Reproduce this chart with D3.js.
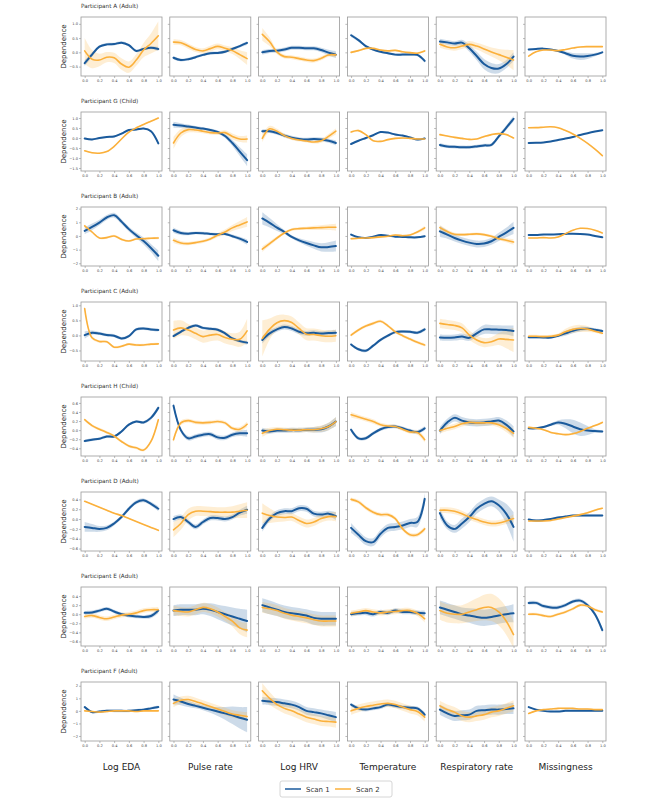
<!DOCTYPE html>
<html>
<head>
<meta charset="utf-8">
<script src="https://cdn.jsdelivr.net/npm/d3@7"></script>
<style>
  body { margin: 0; background: #fff; }
  svg { font-family: "DejaVu Sans", sans-serif; }
</style>
</head>
<body>
<div id="chart"></div>
<script>
const xGrid = [0, 0.1, 0.2, 0.3, 0.4, 0.5, 0.6, 0.7, 0.8, 0.9, 1.0];
const xTicks = [0, 0.2, 0.4, 0.6, 0.8, 1.0];
const features = ["Log EDA", "Pulse rate", "Log HRV", "Temperature", "Respiratory rate", "Missingness"];
const participants = ["Participant A (Adult)", "Participant G (Child)", "Participant B (Adult)", "Participant C (Adult)",
  "Participant H (Child)", "Participant D (Adult)", "Participant E (Adult)", "Participant F (Adult)"];
const yDomains = [[-0.83, 1.24], [-1.65, 1.30], [-2.2, 2.12], [-0.85, 1.11], [-0.57, 0.73], [-0.65, 0.55], [-0.7, 0.6], [-2.4, 2.3]];
const yTicks = [
  [-0.5, 0, 0.5, 1.0],
  [-1.5, -1.0, -0.5, 0, 0.5, 1.0],
  [-2, -1, 0, 1, 2],
  [-0.5, 0, 0.5, 1.0],
  [-0.4, -0.2, 0, 0.2, 0.4, 0.6],
  [-0.6, -0.4, -0.2, 0, 0.2, 0.4],
  [-0.6, -0.4, -0.2, 0, 0.2, 0.4],
  [-2, -1, 0, 1, 2]
];

// Participant A
const scan1_A = [
  [-0.38, -0.08, 0.20, 0.28, 0.29, 0.34, 0.25, 0.05, 0.12, 0.16, 0.12],
  [-0.19, -0.27, -0.24, -0.17, -0.09, -0.03, -0.02, 0.02, 0.12, 0.22, 0.33],
  [0.00, 0.05, 0.06, 0.10, 0.16, 0.16, 0.14, 0.14, 0.08, -0.01, -0.08],
  [0.60, 0.43, 0.22, 0.10, 0.02, -0.03, -0.08, -0.08, -0.08, -0.09, -0.30],
  [0.38, 0.35, 0.31, 0.34, 0.14, -0.13, -0.41, -0.55, -0.57, -0.42, -0.15],
  [0.10, 0.12, 0.13, 0.10, 0.05, -0.03, -0.12, -0.15, -0.13, -0.08, 0.00]
];
const scan2_A = [
  [0.05, -0.24, -0.27, -0.17, -0.19, -0.41, -0.52, -0.27, 0.08, 0.31, 0.58],
  [0.36, 0.34, 0.22, 0.10, 0.05, 0.13, 0.21, 0.14, 0.06, -0.08, -0.22],
  [0.63, 0.37, 0.01, -0.15, -0.17, -0.22, -0.27, -0.29, -0.21, -0.09, -0.09],
  [0.00, 0.06, 0.14, 0.14, 0.08, 0.05, 0.07, 0.02, -0.01, -0.03, 0.05],
  [0.28, 0.19, 0.16, 0.22, 0.28, 0.22, 0.12, 0.01, -0.08, -0.17, -0.27],
  [-0.13, 0.02, 0.08, 0.08, 0.06, 0.10, 0.15, 0.19, 0.20, 0.20, 0.20]
];
const band1_A = [
  [0.10, 0.08, 0.05, 0.05, 0.05, 0.05, 0.05, 0.05, 0.05, 0.05, 0.07],
  [0.06, 0.05, 0.05, 0.05, 0.05, 0.05, 0.05, 0.05, 0.05, 0.05, 0.07],
  [0.08, 0.07, 0.07, 0.07, 0.07, 0.07, 0.07, 0.07, 0.08, 0.10, 0.12],
  [0.06, 0.05, 0.04, 0.04, 0.04, 0.04, 0.04, 0.04, 0.04, 0.05, 0.07],
  [0.10, 0.08, 0.08, 0.10, 0.12, 0.15, 0.18, 0.18, 0.16, 0.14, 0.15],
  [0.03, 0.02, 0.02, 0.02, 0.03, 0.06, 0.10, 0.12, 0.10, 0.06, 0.04]
];
const band2_A = [
  [0.45, 0.32, 0.22, 0.18, 0.18, 0.20, 0.20, 0.20, 0.25, 0.35, 0.50],
  [0.10, 0.09, 0.09, 0.09, 0.09, 0.10, 0.10, 0.10, 0.12, 0.15, 0.22],
  [0.22, 0.15, 0.08, 0.07, 0.07, 0.07, 0.07, 0.07, 0.07, 0.07, 0.08],
  [0.04, 0.03, 0.03, 0.03, 0.03, 0.03, 0.03, 0.03, 0.03, 0.03, 0.04],
  [0.12, 0.10, 0.10, 0.10, 0.12, 0.12, 0.14, 0.16, 0.20, 0.26, 0.35],
  [0.02, 0.02, 0.02, 0.02, 0.02, 0.02, 0.02, 0.02, 0.02, 0.02, 0.02]
];

// Participant G
const scan1_G = [
  [-0.02, -0.07, 0.00, 0.05, 0.08, 0.22, 0.40, 0.42, 0.47, 0.34, -0.27],
  [0.66, 0.62, 0.57, 0.52, 0.47, 0.40, 0.30, 0.10, -0.25, -0.68, -1.11],
  [0.34, 0.34, 0.25, 0.12, 0.02, -0.05, -0.08, -0.05, -0.07, -0.14, -0.25],
  [-0.30, -0.14, 0.00, 0.14, 0.30, 0.27, 0.17, 0.12, 0.03, -0.08, -0.02],
  [-0.35, -0.42, -0.44, -0.46, -0.46, -0.42, -0.37, -0.34, 0.08, 0.51, 0.96],
  [-0.25, -0.24, -0.22, -0.17, -0.10, -0.03, 0.05, 0.15, 0.24, 0.32, 0.39]
];
const scan2_G = [
  [-0.64, -0.74, -0.76, -0.68, -0.42, -0.05, 0.29, 0.51, 0.68, 0.84, 1.00],
  [-0.25, 0.25, 0.42, 0.40, 0.34, 0.27, 0.25, 0.27, 0.08, -0.05, -0.05],
  [-0.02, 0.46, 0.34, 0.12, -0.02, -0.10, -0.15, -0.20, -0.14, 0.08, 0.34],
  [0.30, 0.37, 0.17, -0.14, -0.17, -0.08, -0.02, 0.00, -0.02, -0.05, -0.05],
  [0.17, 0.10, 0.03, -0.02, -0.07, -0.05, 0.07, 0.17, 0.22, 0.17, 0.00],
  [0.51, 0.52, 0.54, 0.56, 0.51, 0.37, 0.20, -0.02, -0.27, -0.56, -0.88]
];
const band1_G = [
  [0.04, 0.04, 0.04, 0.04, 0.04, 0.04, 0.04, 0.04, 0.04, 0.05, 0.06],
  [0.15, 0.12, 0.10, 0.08, 0.07, 0.07, 0.08, 0.10, 0.15, 0.22, 0.30],
  [0.10, 0.09, 0.09, 0.09, 0.09, 0.09, 0.09, 0.09, 0.09, 0.10, 0.12],
  [0.04, 0.04, 0.04, 0.04, 0.04, 0.04, 0.04, 0.04, 0.04, 0.05, 0.06],
  [0.10, 0.08, 0.08, 0.08, 0.08, 0.08, 0.08, 0.08, 0.10, 0.12, 0.15],
  [0.02, 0.02, 0.02, 0.02, 0.02, 0.02, 0.02, 0.02, 0.02, 0.02, 0.02]
];
const band2_G = [
  [0.04, 0.03, 0.03, 0.03, 0.03, 0.03, 0.03, 0.03, 0.03, 0.03, 0.04],
  [0.30, 0.20, 0.15, 0.12, 0.10, 0.10, 0.10, 0.12, 0.15, 0.15, 0.18],
  [0.20, 0.15, 0.12, 0.10, 0.08, 0.08, 0.08, 0.08, 0.10, 0.12, 0.15],
  [0.05, 0.05, 0.04, 0.04, 0.04, 0.04, 0.04, 0.04, 0.04, 0.04, 0.05],
  [0.05, 0.04, 0.04, 0.04, 0.04, 0.04, 0.04, 0.04, 0.04, 0.04, 0.05],
  [0.02, 0.02, 0.02, 0.02, 0.02, 0.02, 0.02, 0.02, 0.02, 0.02, 0.02]
];

// Participant B
const scan1_B = [
  [0.37, 0.66, 0.98, 1.35, 1.52, 1.05, 0.50, 0.05, -0.37, -0.88, -1.45],
  [0.42, 0.22, 0.17, 0.22, 0.20, 0.15, 0.12, 0.15, -0.02, -0.20, -0.44],
  [1.28, 0.96, 0.61, 0.29, -0.07, -0.32, -0.52, -0.69, -0.83, -0.81, -0.74],
  [0.10, -0.10, -0.15, -0.05, 0.07, 0.02, -0.05, -0.07, -0.10, -0.10, -0.02],
  [0.34, 0.10, -0.15, -0.34, -0.49, -0.59, -0.56, -0.39, -0.07, 0.25, 0.59],
  [0.07, 0.07, 0.10, 0.10, 0.12, 0.15, 0.17, 0.15, 0.10, 0.00, -0.10]
];
const scan2_B = [
  [0.74, 0.29, -0.15, -0.12, 0.00, -0.25, -0.37, -0.22, -0.20, -0.17, -0.15],
  [-0.32, -0.52, -0.56, -0.49, -0.39, -0.22, 0.05, 0.29, 0.59, 0.81, 1.03],
  [-0.96, -0.56, -0.15, 0.22, 0.47, 0.54, 0.56, 0.59, 0.61, 0.64, 0.64],
  [-0.20, -0.17, -0.15, -0.12, -0.07, -0.02, 0.07, 0.02, 0.07, 0.29, 0.59],
  [0.61, 0.32, 0.12, 0.10, 0.12, 0.15, 0.10, -0.02, -0.20, -0.32, -0.44],
  [-0.15, -0.15, -0.12, -0.15, -0.07, 0.17, 0.42, 0.56, 0.54, 0.42, 0.22]
];
const band1_B = [
  [0.25, 0.25, 0.20, 0.18, 0.18, 0.18, 0.18, 0.20, 0.25, 0.30, 0.40],
  [0.20, 0.15, 0.12, 0.10, 0.10, 0.10, 0.10, 0.10, 0.12, 0.15, 0.20],
  [0.45, 0.35, 0.25, 0.15, 0.12, 0.15, 0.20, 0.25, 0.30, 0.35, 0.40],
  [0.08, 0.06, 0.06, 0.06, 0.06, 0.06, 0.06, 0.06, 0.06, 0.06, 0.08],
  [0.40, 0.30, 0.25, 0.25, 0.25, 0.25, 0.25, 0.25, 0.30, 0.35, 0.45],
  [0.04, 0.04, 0.04, 0.04, 0.04, 0.04, 0.04, 0.04, 0.04, 0.04, 0.04]
];
const band2_B = [
  [0.12, 0.10, 0.08, 0.08, 0.08, 0.08, 0.08, 0.08, 0.08, 0.08, 0.10],
  [0.20, 0.15, 0.12, 0.12, 0.12, 0.12, 0.15, 0.18, 0.22, 0.28, 0.35],
  [0.20, 0.15, 0.12, 0.10, 0.10, 0.10, 0.12, 0.15, 0.18, 0.20, 0.25],
  [0.10, 0.08, 0.08, 0.08, 0.08, 0.08, 0.08, 0.08, 0.08, 0.10, 0.15],
  [0.20, 0.15, 0.12, 0.10, 0.10, 0.10, 0.10, 0.10, 0.12, 0.15, 0.20],
  [0.04, 0.04, 0.04, 0.04, 0.04, 0.04, 0.04, 0.04, 0.04, 0.04, 0.04]
];

// Participant C
const scan1_C = [
  [0.01, 0.09, 0.06, 0.01, -0.01, -0.10, -0.02, 0.20, 0.23, 0.20, 0.18],
  [-0.02, 0.12, 0.25, 0.33, 0.25, 0.22, 0.19, 0.07, -0.10, -0.19, -0.24],
  [-0.15, 0.07, 0.20, 0.28, 0.23, 0.12, 0.07, 0.09, 0.06, 0.08, 0.09],
  [-0.30, -0.46, -0.51, -0.34, -0.15, -0.01, 0.11, 0.13, 0.12, 0.09, 0.20],
  [-0.07, -0.08, -0.07, -0.04, -0.08, 0.07, 0.20, 0.20, 0.19, 0.18, 0.15],
  [-0.06, -0.06, -0.07, -0.07, -0.01, 0.07, 0.15, 0.21, 0.22, 0.19, 0.15]
];
const scan2_C = [
  [0.89, -0.08, -0.20, -0.21, -0.39, -0.36, -0.29, -0.32, -0.32, -0.29, -0.28],
  [0.18, 0.25, 0.18, 0.07, -0.04, 0.01, 0.03, -0.07, -0.13, -0.13, 0.15],
  [-0.10, 0.21, 0.42, 0.49, 0.43, 0.23, 0.04, 0.03, -0.01, -0.03, -0.01],
  [0.01, 0.18, 0.31, 0.40, 0.47, 0.32, 0.12, -0.01, -0.12, -0.23, -0.32],
  [0.40, 0.36, 0.33, 0.25, 0.01, -0.15, -0.24, -0.21, -0.12, -0.13, -0.15],
  [-0.03, -0.03, -0.04, -0.03, 0.01, 0.12, 0.20, 0.23, 0.21, 0.14, 0.07]
];
const band1_C = [
  [0.12, 0.07, 0.05, 0.05, 0.05, 0.05, 0.05, 0.05, 0.05, 0.05, 0.05],
  [0.06, 0.05, 0.05, 0.05, 0.05, 0.05, 0.05, 0.05, 0.05, 0.05, 0.06],
  [0.12, 0.10, 0.08, 0.08, 0.08, 0.08, 0.08, 0.08, 0.08, 0.08, 0.10],
  [0.05, 0.05, 0.05, 0.05, 0.05, 0.05, 0.05, 0.05, 0.05, 0.05, 0.06],
  [0.10, 0.10, 0.10, 0.10, 0.10, 0.12, 0.15, 0.15, 0.15, 0.15, 0.18],
  [0.04, 0.04, 0.04, 0.04, 0.05, 0.08, 0.08, 0.08, 0.06, 0.05, 0.05]
];
const band2_C = [
  [0.05, 0.05, 0.04, 0.04, 0.04, 0.04, 0.04, 0.04, 0.04, 0.04, 0.04],
  [0.30, 0.25, 0.20, 0.20, 0.20, 0.20, 0.20, 0.20, 0.20, 0.25, 0.40],
  [0.60, 0.35, 0.25, 0.20, 0.20, 0.20, 0.20, 0.20, 0.20, 0.20, 0.20],
  [0.05, 0.05, 0.05, 0.05, 0.05, 0.05, 0.05, 0.05, 0.05, 0.05, 0.05],
  [0.15, 0.15, 0.15, 0.15, 0.15, 0.15, 0.15, 0.15, 0.20, 0.30, 0.40],
  [0.05, 0.05, 0.05, 0.05, 0.05, 0.10, 0.12, 0.12, 0.10, 0.05, 0.05]
];

// Participant H
const scan1_H = [
  [-0.24, -0.21, -0.19, -0.14, -0.14, -0.03, 0.12, 0.19, 0.17, 0.27, 0.49],
  [0.54, 0.00, -0.18, -0.14, -0.10, -0.09, -0.16, -0.17, -0.10, -0.07, -0.07],
  [-0.01, -0.03, -0.01, -0.01, 0.00, 0.00, 0.01, 0.01, 0.02, 0.08, 0.19],
  [0.01, -0.18, -0.18, -0.07, 0.02, 0.07, 0.08, 0.04, -0.01, -0.04, 0.04],
  [-0.01, 0.17, 0.27, 0.21, 0.17, 0.16, 0.17, 0.19, 0.21, 0.12, -0.03],
  [0.04, 0.04, 0.07, 0.12, 0.17, 0.14, 0.08, 0.02, -0.01, -0.02, -0.03]
];
const scan2_H = [
  [0.23, 0.10, 0.02, -0.05, -0.13, -0.25, -0.35, -0.39, -0.44, -0.25, 0.23],
  [-0.21, 0.16, 0.21, 0.17, 0.16, 0.17, 0.19, 0.16, 0.04, 0.02, 0.13],
  [-0.07, -0.01, 0.02, 0.01, 0.00, 0.00, 0.01, 0.01, 0.03, 0.08, 0.19],
  [0.34, 0.29, 0.24, 0.19, 0.12, 0.09, 0.08, 0.02, -0.04, -0.05, -0.21],
  [-0.01, 0.04, 0.08, 0.14, 0.17, 0.16, 0.16, 0.16, 0.12, 0.04, -0.07],
  [0.06, 0.04, 0.01, -0.05, -0.08, -0.10, -0.08, -0.03, 0.04, 0.10, 0.17]
];
const band1_H = [
  [0.03, 0.03, 0.03, 0.03, 0.03, 0.03, 0.03, 0.03, 0.03, 0.04, 0.05],
  [0.06, 0.05, 0.05, 0.05, 0.05, 0.05, 0.05, 0.05, 0.05, 0.06, 0.08],
  [0.06, 0.05, 0.05, 0.05, 0.05, 0.05, 0.05, 0.06, 0.07, 0.08, 0.10],
  [0.05, 0.04, 0.04, 0.04, 0.04, 0.04, 0.04, 0.04, 0.04, 0.04, 0.05],
  [0.08, 0.08, 0.08, 0.08, 0.08, 0.08, 0.08, 0.08, 0.08, 0.10, 0.12],
  [0.02, 0.02, 0.02, 0.03, 0.05, 0.10, 0.15, 0.15, 0.10, 0.04, 0.03]
];
const band2_H = [
  [0.03, 0.03, 0.03, 0.03, 0.03, 0.03, 0.03, 0.03, 0.03, 0.04, 0.05],
  [0.06, 0.05, 0.04, 0.04, 0.04, 0.04, 0.04, 0.04, 0.04, 0.05, 0.06],
  [0.08, 0.06, 0.05, 0.05, 0.05, 0.05, 0.05, 0.06, 0.07, 0.08, 0.10],
  [0.06, 0.05, 0.05, 0.05, 0.04, 0.04, 0.04, 0.04, 0.04, 0.05, 0.06],
  [0.06, 0.06, 0.06, 0.06, 0.06, 0.06, 0.06, 0.06, 0.06, 0.08, 0.10],
  [0.02, 0.02, 0.02, 0.02, 0.02, 0.02, 0.02, 0.02, 0.02, 0.02, 0.02]
];

// Participant D
const scan1_D = [
  [-0.16, -0.18, -0.20, -0.18, -0.09, 0.04, 0.21, 0.34, 0.38, 0.31, 0.21],
  [0.00, 0.04, -0.06, -0.16, -0.06, 0.02, 0.02, 0.00, 0.04, 0.13, 0.19],
  [-0.18, 0.01, 0.12, 0.16, 0.16, 0.22, 0.21, 0.11, 0.09, 0.11, 0.06],
  [-0.18, -0.32, -0.45, -0.47, -0.30, -0.18, -0.16, -0.13, -0.08, -0.06, 0.41],
  [0.12, -0.13, -0.20, -0.09, 0.04, 0.21, 0.31, 0.36, 0.28, 0.11, -0.16],
  [-0.01, -0.03, -0.02, 0.00, 0.03, 0.05, 0.07, 0.07, 0.07, 0.07, 0.07]
];
const scan2_D = [
  [0.36, 0.30, 0.24, 0.18, 0.12, 0.07, 0.01, -0.05, -0.11, -0.17, -0.23],
  [-0.22, -0.09, 0.09, 0.16, 0.16, 0.15, 0.14, 0.14, 0.14, 0.16, 0.18],
  [0.12, 0.07, 0.04, 0.03, 0.04, -0.03, -0.09, -0.06, 0.01, 0.05, 0.05],
  [0.40, 0.35, 0.23, 0.14, 0.09, 0.09, 0.01, -0.20, -0.32, -0.32, -0.20],
  [0.18, 0.18, 0.16, 0.11, 0.04, -0.01, -0.06, -0.09, -0.08, -0.04, 0.01],
  [-0.04, -0.04, -0.04, -0.03, 0.00, 0.03, 0.06, 0.09, 0.13, 0.18, 0.22]
];
const band1_D = [
  [0.10, 0.08, 0.06, 0.05, 0.04, 0.04, 0.04, 0.04, 0.04, 0.04, 0.05],
  [0.06, 0.05, 0.05, 0.05, 0.05, 0.05, 0.05, 0.05, 0.05, 0.06, 0.08],
  [0.08, 0.06, 0.06, 0.06, 0.06, 0.06, 0.06, 0.06, 0.06, 0.06, 0.08],
  [0.10, 0.08, 0.08, 0.08, 0.08, 0.08, 0.08, 0.08, 0.08, 0.10, 0.12],
  [0.10, 0.08, 0.08, 0.10, 0.10, 0.10, 0.10, 0.10, 0.12, 0.20, 0.30],
  [0.02, 0.02, 0.02, 0.02, 0.02, 0.02, 0.02, 0.02, 0.02, 0.02, 0.02]
];
const band2_D = [
  [0.01, 0.01, 0.01, 0.01, 0.01, 0.01, 0.01, 0.01, 0.01, 0.01, 0.01],
  [0.15, 0.13, 0.12, 0.10, 0.10, 0.10, 0.10, 0.10, 0.12, 0.14, 0.16],
  [0.20, 0.15, 0.10, 0.08, 0.08, 0.08, 0.08, 0.08, 0.08, 0.08, 0.10],
  [0.04, 0.04, 0.04, 0.04, 0.04, 0.04, 0.04, 0.04, 0.04, 0.04, 0.05],
  [0.06, 0.06, 0.06, 0.06, 0.06, 0.06, 0.06, 0.06, 0.06, 0.06, 0.08],
  [0.02, 0.02, 0.02, 0.02, 0.02, 0.02, 0.02, 0.02, 0.02, 0.02, 0.02]
];

// Participant E
const scan1_E = [
  [0.03, 0.04, 0.08, 0.12, 0.06, 0.00, -0.03, -0.05, -0.06, -0.04, 0.08],
  [0.08, 0.10, 0.10, 0.10, 0.12, 0.10, 0.05, 0.00, -0.05, -0.10, -0.15],
  [0.20, 0.15, 0.10, 0.05, 0.02, 0.00, -0.03, -0.08, -0.10, -0.10, -0.10],
  [0.00, 0.02, 0.03, 0.00, 0.05, 0.03, 0.08, 0.05, 0.05, 0.03, 0.02],
  [0.15, 0.10, 0.05, 0.00, -0.03, -0.06, -0.08, -0.06, -0.03, 0.00, 0.02],
  [0.25, 0.25, 0.18, 0.15, 0.15, 0.20, 0.28, 0.30, 0.20, 0.00, -0.35]
];
const scan2_E = [
  [-0.05, -0.03, -0.07, -0.10, -0.06, -0.02, 0.00, 0.03, 0.08, 0.10, 0.10],
  [0.08, 0.06, 0.05, 0.10, 0.15, 0.12, 0.05, -0.05, -0.15, -0.30, -0.35],
  [0.15, 0.12, 0.08, 0.02, -0.02, -0.05, -0.08, -0.12, -0.15, -0.15, -0.15],
  [0.02, 0.05, 0.08, 0.05, 0.03, 0.05, 0.06, 0.08, 0.08, 0.02, -0.10],
  [0.08, 0.02, 0.00, 0.00, 0.05, 0.10, 0.15, 0.15, 0.05, -0.15, -0.45],
  [0.00, 0.00, -0.03, -0.05, 0.00, 0.05, 0.12, 0.20, 0.18, 0.10, 0.05]
];
const band1_E = [
  [0.04, 0.04, 0.04, 0.04, 0.04, 0.04, 0.04, 0.04, 0.04, 0.05, 0.06],
  [0.12, 0.12, 0.12, 0.12, 0.12, 0.14, 0.16, 0.18, 0.20, 0.22, 0.25],
  [0.15, 0.15, 0.14, 0.14, 0.14, 0.14, 0.14, 0.15, 0.15, 0.15, 0.15],
  [0.05, 0.05, 0.05, 0.05, 0.05, 0.05, 0.05, 0.05, 0.05, 0.05, 0.06],
  [0.15, 0.15, 0.15, 0.15, 0.16, 0.18, 0.18, 0.18, 0.18, 0.18, 0.20],
  [0.04, 0.04, 0.04, 0.04, 0.04, 0.04, 0.04, 0.04, 0.04, 0.05, 0.06]
];
const band2_E = [
  [0.05, 0.05, 0.05, 0.05, 0.05, 0.05, 0.05, 0.05, 0.05, 0.05, 0.06],
  [0.10, 0.10, 0.10, 0.10, 0.10, 0.10, 0.10, 0.10, 0.12, 0.14, 0.16],
  [0.12, 0.12, 0.12, 0.12, 0.12, 0.12, 0.12, 0.12, 0.12, 0.12, 0.12],
  [0.06, 0.06, 0.06, 0.06, 0.06, 0.06, 0.06, 0.06, 0.06, 0.06, 0.08],
  [0.20, 0.20, 0.20, 0.20, 0.22, 0.25, 0.28, 0.30, 0.30, 0.30, 0.30],
  [0.03, 0.03, 0.03, 0.03, 0.03, 0.03, 0.03, 0.03, 0.03, 0.03, 0.03]
];

// Participant F
const scan1_F = [
  [0.30, -0.10, -0.05, 0.00, 0.00, 0.00, 0.00, 0.05, 0.10, 0.20, 0.30],
  [0.90, 0.75, 0.55, 0.40, 0.25, 0.10, -0.05, -0.20, -0.35, -0.55, -0.70],
  [0.80, 0.75, 0.70, 0.60, 0.50, 0.30, 0.00, -0.10, -0.20, -0.35, -0.50],
  [0.50, 0.20, 0.10, 0.20, 0.30, 0.50, 0.40, 0.30, 0.25, 0.20, -0.30],
  [0.10, -0.20, -0.40, -0.35, -0.30, 0.00, 0.05, 0.10, 0.10, 0.15, 0.20],
  [0.30, 0.10, 0.00, -0.05, -0.05, 0.00, 0.00, 0.00, 0.00, 0.00, 0.00]
];
const scan2_F = [
  [0.00, -0.05, -0.10, -0.05, 0.00, 0.00, 0.00, -0.05, 0.00, 0.00, 0.00],
  [0.60, 0.85, 0.90, 0.75, 0.55, 0.35, 0.15, -0.05, -0.25, -0.35, -0.45],
  [1.60, 1.00, 0.50, 0.20, 0.00, -0.25, -0.50, -0.65, -0.80, -0.85, -0.90],
  [0.00, 0.20, 0.35, 0.45, 0.55, 0.60, 0.50, 0.30, 0.10, -0.05, -0.50],
  [0.40, 0.10, -0.10, -0.40, -0.50, -0.40, -0.30, -0.10, 0.00, 0.20, 0.40],
  [-0.20, 0.00, 0.10, 0.15, 0.20, 0.20, 0.20, 0.15, 0.15, 0.10, 0.10]
];
const band1_F = [
  [0.10, 0.10, 0.10, 0.10, 0.10, 0.10, 0.10, 0.10, 0.10, 0.10, 0.12],
  [0.40, 0.30, 0.25, 0.20, 0.20, 0.25, 0.35, 0.50, 0.70, 0.85, 1.00],
  [0.30, 0.30, 0.30, 0.30, 0.30, 0.30, 0.30, 0.30, 0.30, 0.35, 0.40],
  [0.15, 0.15, 0.15, 0.15, 0.15, 0.15, 0.15, 0.15, 0.15, 0.15, 0.20],
  [0.40, 0.40, 0.40, 0.40, 0.40, 0.40, 0.40, 0.40, 0.40, 0.40, 0.45],
  [0.05, 0.05, 0.05, 0.05, 0.05, 0.05, 0.05, 0.05, 0.05, 0.05, 0.05]
];
const band2_F = [
  [0.05, 0.05, 0.05, 0.05, 0.05, 0.05, 0.05, 0.05, 0.05, 0.05, 0.05],
  [0.30, 0.30, 0.30, 0.30, 0.30, 0.30, 0.30, 0.30, 0.30, 0.30, 0.35],
  [0.60, 0.50, 0.40, 0.40, 0.40, 0.40, 0.40, 0.40, 0.40, 0.40, 0.45],
  [0.30, 0.30, 0.30, 0.30, 0.30, 0.30, 0.30, 0.30, 0.30, 0.30, 0.35],
  [0.40, 0.40, 0.40, 0.40, 0.40, 0.40, 0.40, 0.40, 0.40, 0.40, 0.45],
  [0.05, 0.05, 0.05, 0.05, 0.05, 0.05, 0.05, 0.05, 0.05, 0.05, 0.05]
];

const scan1 = [scan1_A, scan1_G, scan1_B, scan1_C, scan1_H, scan1_D, scan1_E, scan1_F];
const scan2 = [scan2_A, scan2_G, scan2_B, scan2_C, scan2_H, scan2_D, scan2_E, scan2_F];
const band1 = [band1_A, band1_G, band1_B, band1_C, band1_H, band1_D, band1_E, band1_F];
const band2 = [band2_A, band2_G, band2_B, band2_C, band2_H, band2_D, band2_E, band2_F];

const Width = 666, Height = 799;
const Grid = {LEFT: 81, TOP: 17, COLSTEP: 88.8, ROWSTEP: 95, W: 81, H: 59};
const BLUE = "#1a5a9c", ORANGE = "#fbb03b";

const svg = d3.select("#chart").append("svg")
  .attr("width", Width).attr("height", Height);
svg.append("rect").attr("width", Width).attr("height", Height).attr("fill", "#fff");

const x = d3.scaleLinear().domain([-0.05, 1.05]).range([0, Grid.W]);

participants.forEach((name, r) => {
  const top = Grid.TOP + r * Grid.ROWSTEP;
  const y = d3.scaleLinear().domain(yDomains[r]).range([Grid.H, 0]);
  const isInt = r === 2 || r === 7;

  svg.append("text")
    .attr("x", Grid.LEFT).attr("y", top - 9.5)
    .attr("font-size", 5.7).attr("fill", "#333")
    .text(name);

  svg.append("text")
    .attr("transform", `translate(66, ${top + Grid.H / 2}) rotate(-90)`)
    .attr("text-anchor", "middle")
    .attr("font-size", 7).attr("fill", "#222")
    .text("Dependence");

  features.forEach((feat, c) => {
    const left = Grid.LEFT + c * Grid.COLSTEP;
    const g = svg.append("g").attr("transform", `translate(${left}, ${top})`);
    const clipId = `clip-${r}-${c}`;
    g.append("clipPath").attr("id", clipId)
      .append("rect").attr("width", Grid.W).attr("height", Grid.H);

    const plot = g.append("g").attr("clip-path", `url(#${clipId})`);
    const series = [
      {mean: scan1[r][c], band: band1[r][c], color: BLUE, lw: 2},
      {mean: scan2[r][c], band: band2[r][c], color: ORANGE, lw: 1.6}
    ];

    series.forEach(s => {
      const pts = xGrid.map((xv, i) => ({x: xv, m: s.mean[i], b: s.band[i]}));
      const area = d3.area()
        .x(d => x(d.x))
        .y0(d => y(d.m - d.b))
        .y1(d => y(d.m + d.b))
        .curve(d3.curveCatmullRom);
      plot.append("path").datum(pts)
        .attr("d", area)
        .attr("fill", s.color).attr("fill-opacity", 0.22);
    });
    series.forEach(s => {
      const pts = xGrid.map((xv, i) => ({x: xv, m: s.mean[i]}));
      const line = d3.line()
        .x(d => x(d.x))
        .y(d => y(d.m))
        .curve(d3.curveCatmullRom);
      plot.append("path").datum(pts)
        .attr("d", line)
        .attr("fill", "none").attr("stroke", s.color)
        .attr("stroke-width", s.lw).attr("stroke-linecap", "round");
    });

    const xAxis = g.append("g")
      .attr("transform", `translate(0, ${Grid.H})`)
      .call(d3.axisBottom(x).tickValues(xTicks).tickFormat(d3.format(".1f")).tickSize(2).tickPadding(1));
    const yAxis = g.append("g")
      .call(d3.axisLeft(y).tickValues(yTicks[r])
        .tickFormat(c === 0 ? d3.format(isInt ? "d" : ".1f") : "")
        .tickSize(2).tickPadding(1));
    [xAxis, yAxis].forEach(a => {
      a.select(".domain").remove();
      a.selectAll(".tick line").attr("stroke", "#777").attr("stroke-width", 0.5);
      a.selectAll(".tick text").attr("font-size", 3.6).attr("fill", "#444")
        .attr("font-family", "DejaVu Sans");
    });

    g.append("rect")
      .attr("width", Grid.W).attr("height", Grid.H)
      .attr("fill", "none").attr("stroke", "#999").attr("stroke-width", 0.8);

    if (r === participants.length - 1) {
      svg.append("text")
        .attr("x", left + Grid.W / 2)
        .attr("y", top + Grid.H + 29)
        .attr("text-anchor", "middle")
        .attr("font-size", 9).attr("fill", "#222")
        .text(feat);
    }
  });
});

// legend
const legend = svg.append("g").attr("transform", "translate(280, 781)");
legend.append("rect").attr("width", 112).attr("height", 16)
  .attr("rx", 2).attr("fill", "#fff").attr("stroke", "#ccc").attr("stroke-width", 0.8);
[{label: "Scan 1", color: BLUE}, {label: "Scan 2", color: ORANGE}].forEach((d, i) => {
  const lg = legend.append("g").attr("transform", `translate(${5 + i * 50}, 8)`);
  lg.append("line").attr("x1", 0).attr("x2", 16)
    .attr("stroke", d.color).attr("stroke-width", 1.5);
  lg.append("text").attr("x", 21).attr("y", 2.5)
    .attr("font-size", 7).attr("fill", "#333").text(d.label);
});
</script>
</body>
</html>
